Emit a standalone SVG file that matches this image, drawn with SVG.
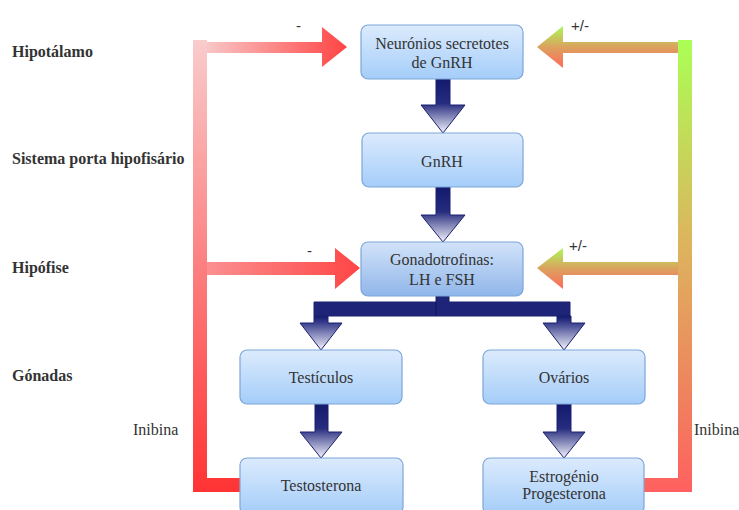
<svg xmlns="http://www.w3.org/2000/svg" width="739" height="510" viewBox="0 0 739 510">
<style>
  .box { fill: url(#boxG); stroke: #7da6d8; stroke-width: 1.2; }
  .box2 { fill: url(#boxG2); stroke: #7da6d8; stroke-width: 1.2; }
  .t { font-family: "Liberation Serif", "DejaVu Serif", "Times New Roman", serif; font-size: 16px; fill: #333; text-anchor: middle; }
  .lbl { font-family: "Liberation Serif", "DejaVu Serif", "Times New Roman", serif; font-size: 16px; font-weight: bold; fill: #333; }
  .sm { font-family: "Liberation Sans", Arial, sans-serif; font-size: 15px; fill: #333; }
  .blk { fill: url(#blkG); stroke: #1b2070; stroke-width: 1; }
  .leg { fill: url(#legG); stroke: #1b2070; stroke-width: 1; }
  .bar { fill: #1e2478; stroke: #1b2070; stroke-width: 1; }
</style>
<defs>
  <linearGradient id="boxG" x1="0" y1="0" x2="0" y2="1">
    <stop offset="0" stop-color="#dcebfd"/>
    <stop offset="1" stop-color="#a4cdf9"/>
  </linearGradient>
  <linearGradient id="boxG2" x1="0" y1="0" x2="0" y2="1">
    <stop offset="0" stop-color="#d2e3f9"/>
    <stop offset="1" stop-color="#90b6ea"/>
  </linearGradient>
  <linearGradient id="blkG" x1="0" y1="0" x2="0" y2="1">
    <stop offset="0" stop-color="#141a6b"/>
    <stop offset="0.45" stop-color="#262c7e"/>
    <stop offset="1" stop-color="#f4f4fb"/>
  </linearGradient>
  <linearGradient id="legG" x1="0" y1="0" x2="0" y2="1">
    <stop offset="0" stop-color="#141a6b"/>
    <stop offset="0.2" stop-color="#383e8c"/>
    <stop offset="1" stop-color="#f4f4fb"/>
  </linearGradient>
  <linearGradient id="redV" gradientUnits="userSpaceOnUse" x1="0" y1="40" x2="0" y2="492">
    <stop offset="0" stop-color="#f9cccc"/>
    <stop offset="1" stop-color="#ff3333"/>
  </linearGradient>
  <linearGradient id="redH1" x1="0" y1="0" x2="1" y2="0">
    <stop offset="0" stop-color="#f9c6c6"/>
    <stop offset="1" stop-color="#ff4444"/>
  </linearGradient>
  <linearGradient id="redH2" x1="0" y1="0" x2="1" y2="0">
    <stop offset="0" stop-color="#fb9090"/>
    <stop offset="1" stop-color="#ff4545"/>
  </linearGradient>
  <linearGradient id="grnV" gradientUnits="userSpaceOnUse" x1="0" y1="40" x2="0" y2="492">
    <stop offset="0" stop-color="#aaff55"/>
    <stop offset="0.45" stop-color="#ddb45e"/>
    <stop offset="0.8" stop-color="#f0805e"/>
    <stop offset="1" stop-color="#ff6060"/>
  </linearGradient>
  <linearGradient id="grnA" x1="0" y1="0" x2="0" y2="1">
    <stop offset="0" stop-color="#adf85a"/>
    <stop offset="0.5" stop-color="#dba25e"/>
    <stop offset="1" stop-color="#ff6a5c"/>
  </linearGradient>
</defs>

<g id="level-labels">
  <text class="lbl" x="12" y="57">Hipotálamo</text>
  <text class="lbl" x="12" y="164">Sistema porta hipofisário</text>
  <text class="lbl" x="12" y="273">Hipófise</text>
  <text class="lbl" x="12" y="381">Gónadas</text>
</g>

<g id="connectors">
  <path d="M200,40 V485 H240" fill="none" stroke="url(#redV)" stroke-width="14"/>
  <path d="M207,42 H322 V27 L347,47 L322,67 V53 H207 Z" fill="url(#redH1)"/>
  <path d="M207,262 H335 V248 L360,268 L335,289 V275 H207 Z" fill="url(#redH2)"/>
  <path d="M685,40 V485 H644" fill="none" stroke="url(#grnV)" stroke-width="14"/>
  <path d="M678,42 H563 V26 L537,47 L563,68 V53 H678 Z" fill="url(#grnA)"/>
  <path d="M678,262 H563 V248 L537,268 L563,289 V275 H678 Z" fill="url(#grnA)"/>
  <path class="blk" d="M436,79 H450 V105 H465 L443,133 L421,105 H436 Z"/>
  <path class="blk" d="M436,187 H450 V215 H465 L443,242 L421,215 H436 Z"/>
  <path class="bar" d="M436,296 H449 V302 H570 V316 H314 V302 H436 Z"/>
  <line x1="436" y1="302" x2="436" y2="316" stroke="#10145a" stroke-width="1"/>
  <path class="leg" d="M314,316 H328 V323 H342 L321,350 L300,323 H314 Z"/>
  <path class="leg" d="M557,316 H571 V323 H585 L564,350 L543,323 H557 Z"/>
  <path class="blk" d="M315,404 H328 V432 H342 L321,458 L300,432 H315 Z"/>
  <path class="blk" d="M557,404 H571 V432 H585 L564,458 L543,432 H557 Z"/>
  <text class="sm" x="296" y="31">-</text>
  <text class="sm" x="307" y="256">-</text>
  <text class="sm" x="571" y="31">+/-</text>
  <text class="sm" x="569" y="251">+/-</text>
  <text class="t" x="133" y="435" style="text-anchor:start">Inibina</text>
  <text class="t" x="694" y="435" style="text-anchor:start">Inibina</text>
</g>

<g id="neuronios">
  <rect class="box" x="361" y="25" width="162" height="54" rx="7"/>
  <text class="t" x="442" y="49">Neurónios secretotes</text>
  <text class="t" x="442" y="68">de GnRH</text>
</g>
<g id="gnrh">
  <rect class="box" x="362" y="133" width="161" height="54" rx="7"/>
  <text class="t" x="442" y="167">GnRH</text>
</g>
<g id="gonadotrofinas">
  <rect class="box2" x="361" y="242" width="162" height="54" rx="7"/>
  <text class="t" x="442" y="265">Gonadotrofinas:</text>
  <text class="t" x="442" y="285">LH e FSH</text>
</g>
<g id="testiculos">
  <rect class="box" x="240" y="350" width="162" height="54" rx="7"/>
  <text class="t" x="321" y="383">Testículos</text>
</g>
<g id="ovarios">
  <rect class="box" x="483" y="350" width="162" height="54" rx="7"/>
  <text class="t" x="564" y="383">Ovários</text>
</g>
<g id="testosterona">
  <rect class="box" x="240" y="458" width="163" height="56" rx="7"/>
  <text class="t" x="321" y="491">Testosterona</text>
</g>
<g id="estrogenio">
  <rect class="box" x="483" y="458" width="161" height="56" rx="7"/>
  <text class="t" x="564" y="482">Estrogénio</text>
  <text class="t" x="564" y="499">Progesterona</text>
</g>
</svg>
